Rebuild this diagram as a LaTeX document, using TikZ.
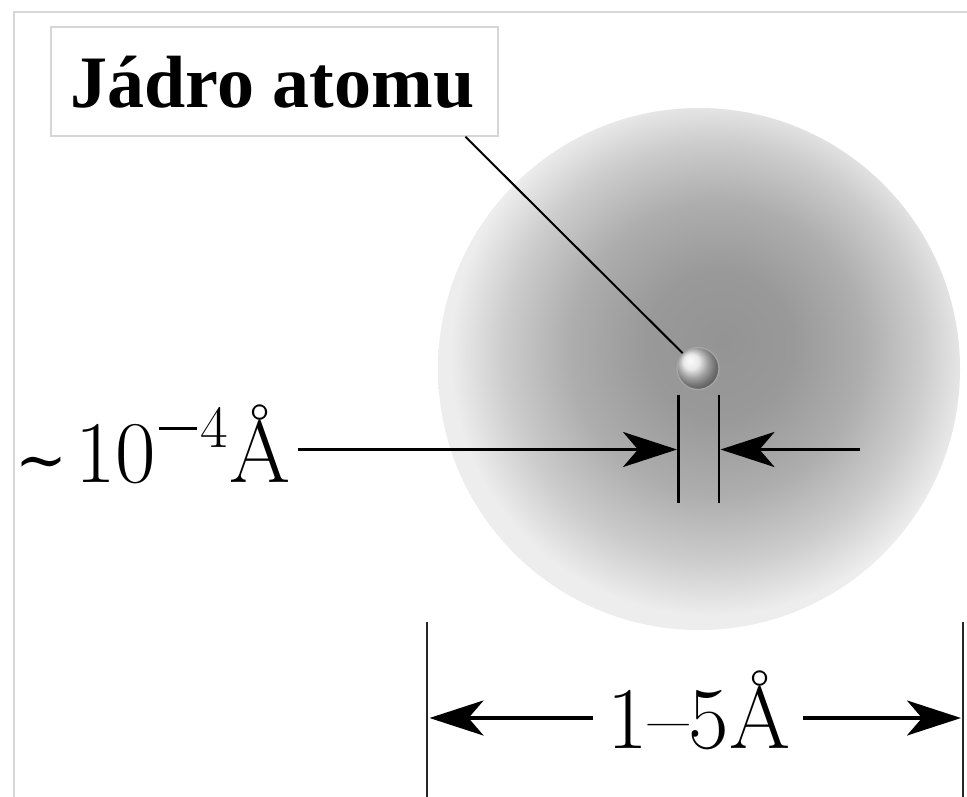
\documentclass[tikz,border=0pt]{standalone}
\usepackage{fontspec}
\usepackage{graphicx}
\newfontfamily\lblfont{Liberation Serif}
\newfontfamily\symfont{DejaVu Serif}
\newfontfamily\dimfam{Latin Modern Roman}
\usetikzlibrary{arrows.meta,calc}
\definecolor{cA}{gray}{0.58}
\definecolor{cB}{gray}{0.60}
\definecolor{cC}{gray}{0.68}
\definecolor{cD}{gray}{0.80}
\definecolor{cE}{gray}{0.93}
\definecolor{frameg}{gray}{0.84}
\pgfdeclareradialshading{cloudshade}{\pgfpoint{2.3bp}{2.7bp}}{color(0bp)=(cA); color(7bp)=(cB); color(14bp)=(cC); color(20bp)=(cD); color(25bp)=(cE); color(50bp)=(cE)}
\tikzset{
  dimarrow/.style={line width=3.5pt, -{Stealth[length=54pt,width=35pt,inset=15pt]}},
  tickline/.style={line width=2.5pt},
  leader/.style={line width=2pt},
  dimfont/.style={font=\dimfam\fontsize{88}{96}\selectfont, inner sep=0pt},
}
\begin{document}
\begin{tikzpicture}[x=1pt,y=-1pt]
\useasboundingbox (0,0) rectangle (967,797);
\fill[white] (0,0) rectangle (967,797);
% outer frame lines
\coordinate (fTL) at (14,12);
\coordinate (fTR) at (967,12);
\coordinate (fBL) at (14,797);
\draw[frameg, line width=1.5pt] (fTR) -- (fTL) -- (fBL);
% electron cloud
\node[circle, minimum size=522pt, inner sep=0pt, shade, shading=cloudshade] (cloud) at (699,369) {};
% nucleus
\node[circle, minimum size=42pt, inner sep=0pt, draw=gray!70, line width=1.3pt, shade, ball color=gray!22] (nuc) at (698,368.5) {};
% label box
\node[draw=frameg, line width=1.3pt, minimum width=447pt, minimum height=109pt, inner sep=0pt, fill=white] (lbl) at (274.5,81.5) {};
\node[anchor=base, inner sep=0pt, font=\lblfont\bfseries\fontsize{74}{80}\selectfont] (lbltext) at (272.5,108) {Jádro atomu};
\coordinate (ls) at ($(lbl.south west)+(415,0)$);
\draw[leader] (ls) -- (nuc);
% nucleus size ticks
\coordinate (t1a) at (678.5,395);
\coordinate (t1b) at (678.5,503);
\coordinate (t2a) at (719,395);
\coordinate (t2b) at (719,503);
\draw[tickline] (t1a) -- (t1b);
\draw[tickline] (t2a) -- (t2b);
% left label and arrows
\node[dimfont, anchor=base east] (small) at (291,482) {\raisebox{1pt}{\symfont\fontsize{62}{62}\selectfont ∼}\hspace{8pt}10\hspace{3pt}\raisebox{35pt}{\fontsize{60}{60}\selectfont\rule[17pt]{38pt}{3.2pt}\hspace{3pt}4}\hspace{2pt}Å};
\coordinate (aLs) at (298,449.5);
\coordinate (aLe) at (677,449.5);
\coordinate (aRs) at (860,449.5);
\coordinate (aRe) at (720.5,449.5);
\draw[dimarrow] (aLs) -- (aLe);
\draw[dimarrow] (aRs) -- (aRe);
% atom size
\coordinate (b1a) at (427,622);
\coordinate (b1b) at (427,797);
\coordinate (b2a) at (963,622);
\coordinate (b2b) at (963,797);
\draw[line width=2pt, black!85] (b1a) -- (b1b);
\draw[line width=2pt, black!85] (b2a) -- (b2b);
\node[dimfont, anchor=base] (big) at (699,748) {1–5Å};
\coordinate (bLs) at (593,718);
\coordinate (bLe) at (429.5,718);
\coordinate (bRs) at (803,718);
\coordinate (bRe) at (961,718);
\draw[dimarrow] (bLs) -- (bLe);
\draw[dimarrow] (bRs) -- (bRe);
\end{tikzpicture}
\end{document}
